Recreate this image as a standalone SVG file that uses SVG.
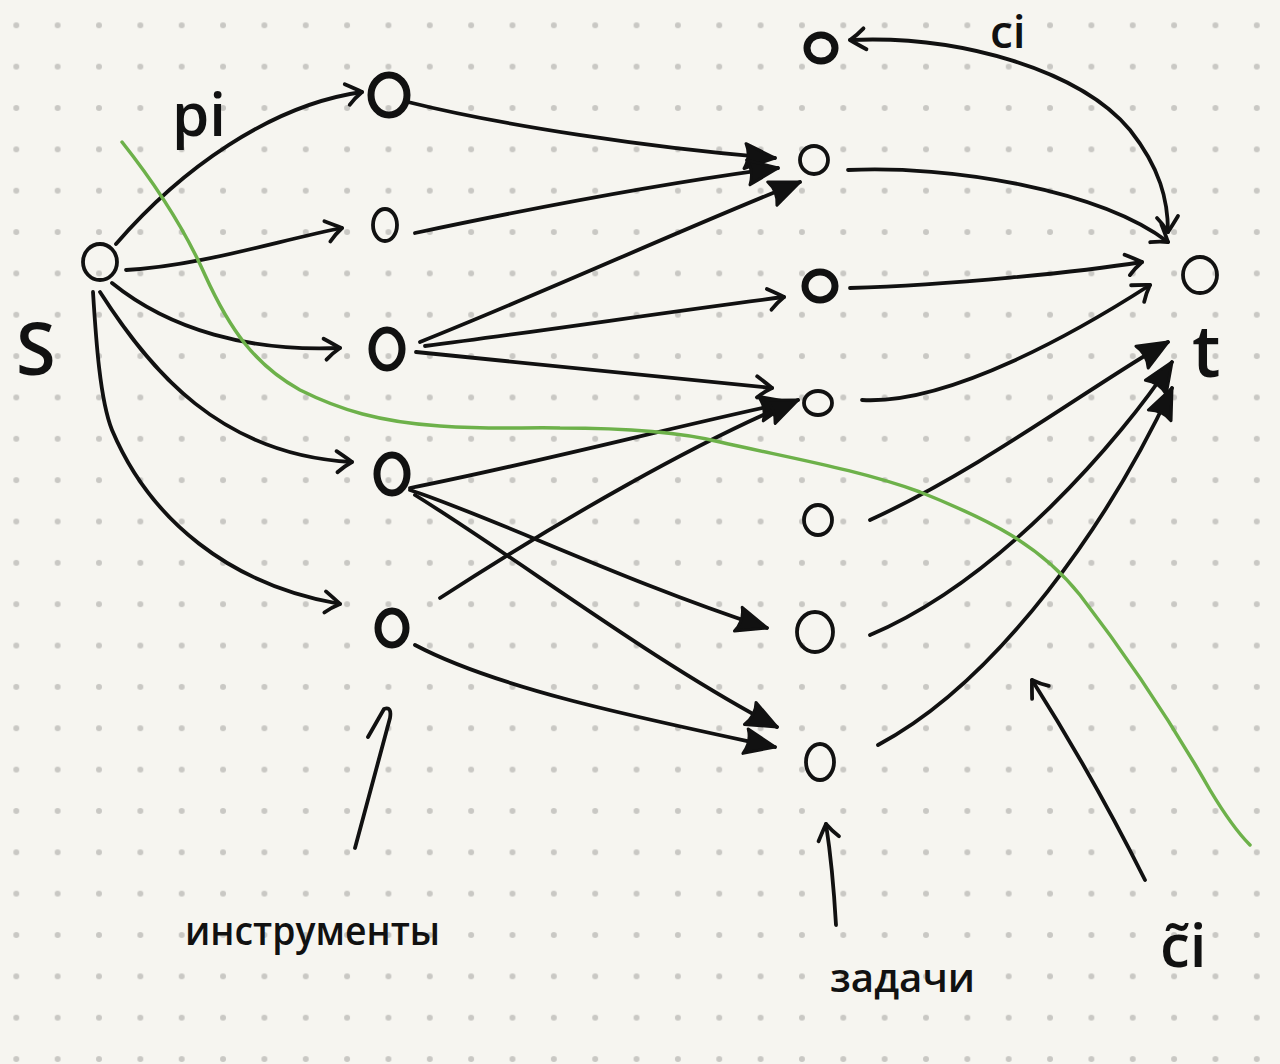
<svg xmlns="http://www.w3.org/2000/svg" width="1280" height="1064" viewBox="0 0 1280 1064">
<style>
.e{fill:none;stroke:#111;stroke-width:3.8;stroke-linecap:round;stroke-linejoin:round}
.n{fill:none;stroke:#111;stroke-width:3.8}
.nb{fill:none;stroke:#111;stroke-width:7}
.lbl{font-family:"Open Sans","Liberation Sans",sans-serif;fill:#111;font-weight:600}
.cut{fill:none;stroke:#6db14a;stroke-width:3.5;stroke-linecap:round;stroke-linejoin:round}
</style>
<defs>
<pattern id="dots" x="-4.375" y="4.625" width="41.35" height="41.35" patternUnits="userSpaceOnUse">
<circle cx="20.675" cy="20.675" r="3" fill="#c9c8c4"/>
</pattern>
<marker id="open" markerUnits="userSpaceOnUse" viewBox="-20 -14 24 28" refX="0" refY="0" markerWidth="24" markerHeight="28" orient="auto-start-reverse" overflow="visible">
<path d="M -16,-10 Q -6,-4 0,0 Q -8,5 -14,11" fill="none" stroke="#111" stroke-width="3.8" stroke-linecap="round" stroke-linejoin="round"/>
</marker>
<marker id="tri" markerUnits="userSpaceOnUse" viewBox="-30 -16 34 32" refX="0" refY="0" markerWidth="34" markerHeight="32" orient="auto" overflow="visible">
<path d="M -30,-12 L 0,0 L -30,13 Q -24,0 -30,-12 Z" fill="#111" stroke="#111" stroke-width="3" stroke-linejoin="round"/>
</marker>
</defs>
<rect width="1280" height="1064" fill="#f6f5f0"/>
<rect width="1280" height="1064" fill="url(#dots)"/>

<g id="connectors">
<!-- s to tools -->
<path class="e" d="M 116,244 C 180,170 270,105 362,92" marker-end="url(#open)"/>
<path class="e" d="M 126,270 C 200,266 280,240 342,228" marker-end="url(#open)"/>
<path class="e" d="M 112,283 C 170,330 250,352 340,348" marker-end="url(#open)"/>
<path class="e" d="M 100,292 C 150,370 220,455 352,462" marker-end="url(#open)"/>
<path class="e" d="M 93,292 C 96,340 100,400 112,430 C 150,520 230,585 340,604" marker-end="url(#open)" stroke-width="4.5"/>
<!-- tools to tasks -->
<path class="e" d="M 408,102 C 500,125 650,148 775,158" marker-end="url(#tri)"/>
<path class="e" d="M 415,233 C 500,215 650,185 778,168" marker-end="url(#tri)"/>
<path class="e" d="M 420,342 C 550,290 680,230 800,182" marker-end="url(#tri)"/>
<path class="e" d="M 425,346 C 550,330 680,310 784,297" marker-end="url(#open)"/>
<path class="e" d="M 416,352 C 550,365 680,378 772,388" marker-end="url(#open)"/>
<path class="e" d="M 410,488 C 550,460 680,425 790,402" marker-end="url(#tri)"/>
<path class="e" d="M 440,598 C 560,520 700,440 798,400" marker-end="url(#tri)"/>
<path class="e" d="M 410,490 C 500,520 620,580 767,628" marker-end="url(#tri)"/>
<path class="e" d="M 415,495 C 520,560 650,660 777,727" marker-end="url(#tri)"/>
<path class="e" d="M 415,645 C 500,690 650,720 775,747" marker-end="url(#tri)"/>
<!-- tasks to t -->
<path class="e" d="M 850,40 C 960,35 1080,70 1130,130 C 1160,168 1168,200 1168,232" marker-start="url(#open)" marker-end="url(#open)"/>
<path class="e" d="M 848,170 C 950,165 1100,190 1168,242" marker-end="url(#open)"/>
<path class="e" d="M 850,288 C 950,285 1080,272 1142,262" marker-end="url(#open)"/>
<path class="e" d="M 862,400 C 950,405 1080,330 1150,285" marker-end="url(#open)"/>
<path class="e" d="M 870,520 C 980,470 1100,380 1168,342" marker-end="url(#tri)"/>
<path class="e" d="M 870,635 C 1000,580 1120,440 1172,362" marker-end="url(#tri)"/>
<path class="e" d="M 878,745 C 1000,680 1110,520 1172,388" marker-end="url(#tri)"/>
<!-- label pointers -->
<path class="e" d="M 355,848 L 390,718 Q 392,706 384,709 L 368,737"/>
<path class="e" d="M 836,925 C 834,890 830,850 826,824" marker-end="url(#open)"/>
<path class="e" d="M 1145,880 C 1110,810 1070,740 1032,680" marker-end="url(#open)"/>
</g>

<path class="cut" d="M 122,142 C 160,190 185,230 205,275 C 230,330 255,365 300,390 C 340,410 380,422 440,426 C 500,430 520,427 560,428 C 620,428 680,432 720,442 C 790,458 860,470 920,492 C 990,520 1040,545 1080,595 C 1130,660 1170,720 1210,790 C 1225,815 1240,835 1250,845"/>

<g id="node-s"><ellipse class="n" cx="100" cy="262" rx="17" ry="18"/></g>
<g id="node-tool1"><ellipse class="nb" cx="389" cy="95" rx="18" ry="20"/></g>
<g id="node-tool2"><ellipse class="n" cx="385" cy="225" rx="12" ry="16" stroke-width="5.5"/></g>
<g id="node-tool3"><ellipse class="nb" cx="387" cy="349" rx="15" ry="19"/></g>
<g id="node-tool4"><ellipse class="nb" cx="392" cy="474" rx="15" ry="19"/></g>
<g id="node-tool5"><ellipse class="nb" cx="392" cy="628" rx="14" ry="17"/></g>
<g id="node-task1"><ellipse class="nb" cx="821" cy="48" rx="14" ry="13"/></g>
<g id="node-task2"><ellipse class="n" cx="814" cy="160" rx="14" ry="14" stroke-width="5.5"/></g>
<g id="node-task3"><ellipse class="nb" cx="820" cy="286" rx="15" ry="14"/></g>
<g id="node-task4"><ellipse class="n" cx="818" cy="403" rx="14" ry="12" stroke-width="5.5"/></g>
<g id="node-task5"><ellipse class="n" cx="818" cy="520" rx="14" ry="15" stroke-width="5.5"/></g>
<g id="node-task6"><ellipse class="n" cx="815" cy="632" rx="18" ry="20"/></g>
<g id="node-task7"><ellipse class="n" cx="820" cy="762" rx="14" ry="18"/></g>
<g id="node-t"><ellipse class="n" cx="1200" cy="275" rx="17" ry="18"/></g>

<g id="labels">
<text class="lbl" x="172" y="136" font-size="60">pi</text>
<text class="lbl" x="16" y="375" font-size="72" font-weight="400">S</text>
<text class="lbl" x="1192" y="377" font-size="72">t</text>
<text class="lbl" x="990" y="48" font-size="46">ci</text>
<text class="lbl" x="1160" y="967" font-size="60">c̃i</text>
<text class="lbl" x="185" y="945" font-size="40" textLength="255" lengthAdjust="spacingAndGlyphs">инструменты</text>
<text class="lbl" x="830" y="992" font-size="40" textLength="145" lengthAdjust="spacingAndGlyphs">задачи</text>
</g>
</svg>
